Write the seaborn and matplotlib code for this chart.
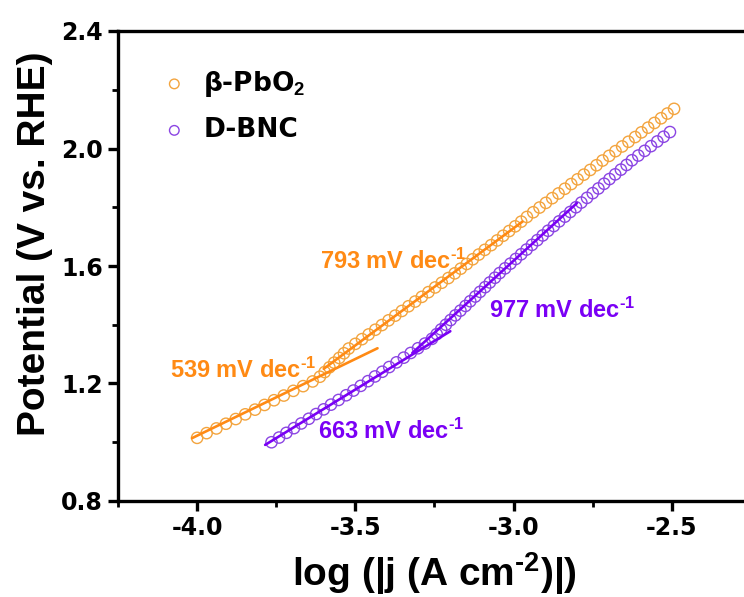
import matplotlib
matplotlib.use("Agg")
import matplotlib.pyplot as plt
from matplotlib.ticker import MultipleLocator, FormatStrFormatter
import seaborn as sns
import pandas as pd

# ---------------- data ----------------
pbo2_logj = [-4.000, -3.970, -3.939, -3.909, -3.878, -3.848, -3.817, -3.787, -3.757, -3.726,
             -3.696, -3.665, -3.635, -3.612, -3.597, -3.582, -3.567, -3.551, -3.536, -3.521,
             -3.500, -3.479, -3.458, -3.437, -3.416, -3.395, -3.374, -3.353, -3.332, -3.311,
             -3.290, -3.269, -3.248, -3.227, -3.206, -3.186, -3.167, -3.148, -3.129, -3.110,
             -3.091, -3.071, -3.052, -3.033, -3.014, -2.995, -2.976, -2.958, -2.938, -2.918,
             -2.898, -2.878, -2.858, -2.838, -2.818, -2.798, -2.778, -2.758, -2.738, -2.719,
             -2.698, -2.678, -2.657, -2.637, -2.616, -2.596, -2.575, -2.555, -2.534, -2.514,
             -2.493]
pbo2_E = [1.015, 1.031, 1.047, 1.063, 1.079, 1.095, 1.111, 1.127, 1.143, 1.159,
          1.175, 1.191, 1.207, 1.223, 1.239, 1.255, 1.271, 1.287, 1.303, 1.319,
          1.335, 1.351, 1.367, 1.383, 1.399, 1.415, 1.431, 1.447, 1.463, 1.479,
          1.495, 1.511, 1.527, 1.543, 1.559, 1.575, 1.591, 1.607, 1.623, 1.639,
          1.655, 1.671, 1.687, 1.703, 1.719, 1.735, 1.751, 1.767, 1.783, 1.799,
          1.815, 1.831, 1.847, 1.863, 1.879, 1.895, 1.911, 1.927, 1.943, 1.959,
          1.975, 1.991, 2.007, 2.023, 2.039, 2.055, 2.071, 2.087, 2.103, 2.119,
          2.135]

bnc_logj = [-3.765, -3.741, -3.718, -3.694, -3.671, -3.647, -3.624, -3.600, -3.577, -3.553,
            -3.529, -3.506, -3.483, -3.460, -3.438, -3.415, -3.393, -3.370, -3.347, -3.325,
            -3.302, -3.280, -3.258, -3.243, -3.229, -3.214, -3.199, -3.184, -3.168, -3.152,
            -3.137, -3.121, -3.106, -3.090, -3.075, -3.059, -3.044, -3.027, -3.010, -2.993,
            -2.976, -2.959, -2.942, -2.925, -2.908, -2.891, -2.873, -2.856, -2.838, -2.821,
            -2.803, -2.786, -2.768, -2.750, -2.732, -2.714, -2.697, -2.679, -2.661, -2.643,
            -2.626, -2.606, -2.586, -2.566, -2.546, -2.526, -2.506]
bnc_E = [1.000, 1.016, 1.032, 1.048, 1.064, 1.080, 1.096, 1.112, 1.128, 1.144,
         1.160, 1.176, 1.192, 1.208, 1.224, 1.240, 1.256, 1.272, 1.288, 1.304,
         1.320, 1.336, 1.352, 1.368, 1.384, 1.400, 1.416, 1.432, 1.448, 1.464,
         1.480, 1.496, 1.512, 1.528, 1.544, 1.560, 1.576, 1.592, 1.608, 1.624,
         1.640, 1.656, 1.672, 1.688, 1.704, 1.720, 1.736, 1.752, 1.768, 1.784,
         1.800, 1.816, 1.832, 1.848, 1.864, 1.880, 1.896, 1.912, 1.928, 1.944,
         1.960, 1.976, 1.992, 2.008, 2.024, 2.040, 2.056]

# Tafel fit segments (end points)
fit_pbo2_low_x = [-4.016, -3.43]
fit_pbo2_low_y = [1.014, 1.320]
fit_pbo2_high_x = [-3.60, -2.972]
fit_pbo2_high_y = [1.250, 1.751]
fit_bnc_low_x = [-3.785, -3.20]
fit_bnc_low_y = [0.991, 1.378]
fit_bnc_high_x = [-3.32, -2.80]
fit_bnc_high_y = [1.304, 1.814]

series_names = ["β-PbO$_\\mathbf{2}$", "D-BNC"]
slope_labels = ["539", "793", "663", "977"]

# ---------------- style ----------------
sns.set_theme(style="ticks")
plt.rcParams["font.family"] = ["Liberation Sans", "DejaVu Sans"]
plt.rcParams["font.weight"] = "bold"
plt.rcParams["mathtext.fontset"] = "custom"
plt.rcParams["mathtext.rm"] = "Liberation Sans:bold"
plt.rcParams["mathtext.bf"] = "Liberation Sans:bold"
plt.rcParams["mathtext.it"] = "Liberation Sans:bold"
plt.rcParams["axes.unicode_minus"] = False
for k in ["text.color", "axes.labelcolor", "xtick.color", "ytick.color", "axes.edgecolor"]:
    plt.rcParams[k] = "black"

ORANGE_PT = "#F3A43E"
ORANGE_LN = "#FF8A14"
PURPLE_PT = "#8B45E3"
PURPLE_LN = "#7A00F5"

fig = plt.figure(figsize=(7.44, 5.97), dpi=100)
ax = fig.add_axes([118 / 744, 96 / 597, 626 / 744, 470 / 597])

df1 = pd.DataFrame({"logj": pbo2_logj, "E": pbo2_E})
df2 = pd.DataFrame({"logj": bnc_logj, "E": bnc_E})

sns.scatterplot(data=df1, x="logj", y="E", ax=ax, marker="o", s=66,
                facecolors="none", edgecolor=ORANGE_PT, linewidth=1.0,
                label=series_names[0], zorder=2)
sns.scatterplot(data=df2, x="logj", y="E", ax=ax, marker="o", s=66,
                facecolors="none", edgecolor=PURPLE_PT, linewidth=1.0,
                label=series_names[1], zorder=2)

for xs, ys, c in [(fit_pbo2_low_x, fit_pbo2_low_y, ORANGE_LN),
                  (fit_pbo2_high_x, fit_pbo2_high_y, ORANGE_LN),
                  (fit_bnc_low_x, fit_bnc_low_y, PURPLE_LN),
                  (fit_bnc_high_x, fit_bnc_high_y, PURPLE_LN)]:
    sns.lineplot(x=xs, y=ys, ax=ax, color=c, linewidth=1.9, legend=False, zorder=3)

# slope annotations
ann = [(slope_labels[0], -4.085, 1.218, ORANGE_LN),
       (slope_labels[1], -3.611, 1.589, ORANGE_LN),
       (slope_labels[2], -3.617, 1.013, PURPLE_LN),
       (slope_labels[3], -3.079, 1.422, PURPLE_LN)]
for val, x, y, c in ann:
    ax.text(x, y, val + " mV dec$^{\\text{-1}}$", color=c, fontsize=17,
            fontweight="bold", ha="left", va="baseline")

ax.set_xlim(-4.25, -2.272)
ax.set_ylim(0.8, 2.4)
ax.xaxis.set_major_locator(MultipleLocator(0.5))
ax.xaxis.set_minor_locator(MultipleLocator(0.25))
ax.yaxis.set_major_locator(MultipleLocator(0.4))
ax.yaxis.set_minor_locator(MultipleLocator(0.2))
ax.xaxis.set_major_formatter(FormatStrFormatter("%.1f"))
ax.yaxis.set_major_formatter(FormatStrFormatter("%.1f"))

for side in ["left", "bottom", "top"]:
    ax.spines[side].set_linewidth(2.4)
    ax.spines[side].set_color("black")
ax.spines["right"].set_visible(False)

ax.tick_params(axis="both", which="major", length=7, width=2.4, labelsize=17,
               pad=4, direction="out", colors="black")
ax.tick_params(axis="both", which="minor", length=4, width=2.0, direction="out",
               colors="black")
for lab in ax.get_xticklabels() + ax.get_yticklabels():
    lab.set_fontfamily("DejaVu Sans")
    lab.set_fontweight("bold")

ax.set_xlabel("log (|j (A cm$^{\\text{-2}}$)|)", fontsize=28, fontweight="bold",
              color="black")
ax.set_ylabel("Potential (V vs. RHE)", fontsize=28, fontweight="bold", color="black")
ax.xaxis.set_label_coords(0.505, -0.105)
ax.yaxis.set_label_coords(-0.104, 0.547)

leg = ax.legend(loc="upper left", bbox_to_anchor=(0.052, 0.942), frameon=False,
                prop={"family": "DejaVu Sans", "weight": "bold", "size": 19},
                handlelength=1.0, handletextpad=0.6, labelspacing=0.7,
                markerscale=0.85, borderaxespad=0)
for t in leg.get_texts():
    t.set_color("black")

fig.savefig("out.png", dpi=100)
